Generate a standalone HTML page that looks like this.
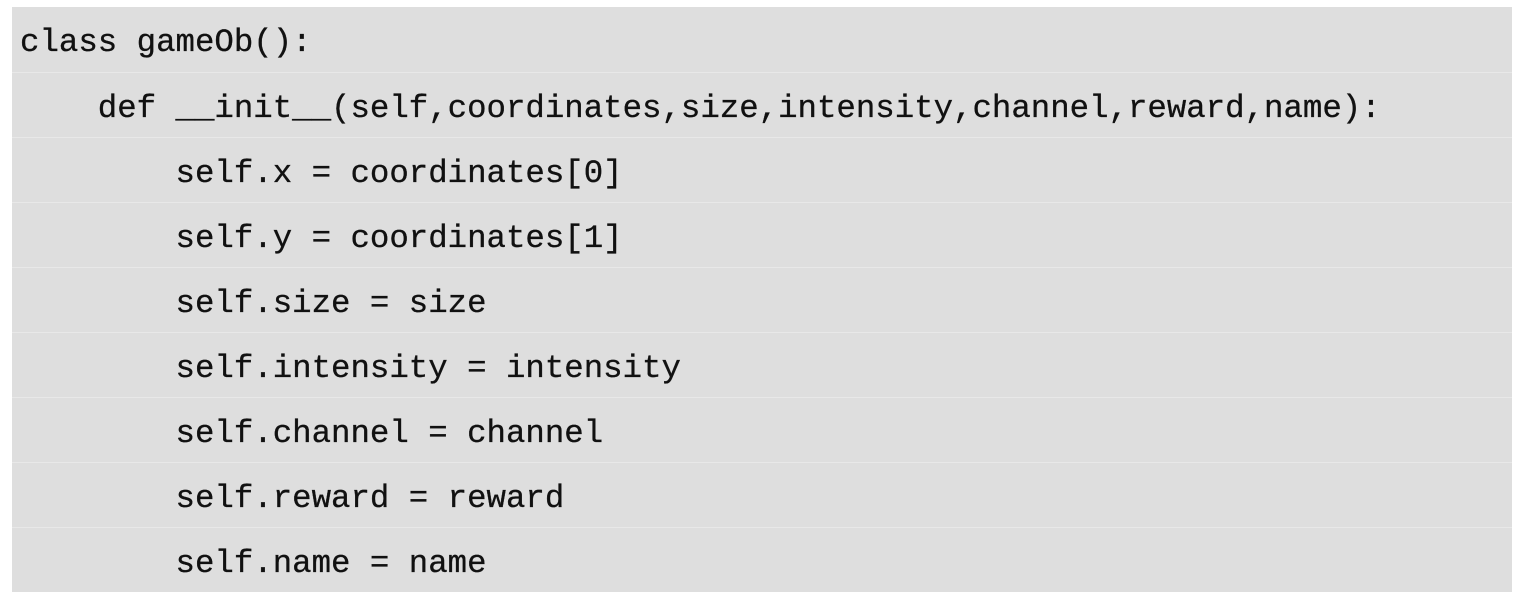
<!DOCTYPE html>
<html><head><style>
html,body{margin:0;padding:0;background:#fff;width:1517px;height:605px;overflow:hidden}
.box{position:absolute;left:12px;top:7px;width:1500px;height:585px;background:#dedede}
.row{height:64px;line-height:72px;overflow:hidden;border-bottom:1px solid #e8e8e8;padding-left:8px;font-family:"Liberation Mono",monospace;font-size:32.4px;color:#111;white-space:pre;-webkit-text-stroke:0.3px #111}
.row:last-child{border-bottom:none}
</style></head><body>
<div class="box">
<div class="row" style="height:65px">class gameOb():</div>
<div class="row">    def __init__(self,coordinates,size,intensity,channel,reward,name):</div>
<div class="row">        self.x = coordinates[0]</div>
<div class="row">        self.y = coordinates[1]</div>
<div class="row">        self.size = size</div>
<div class="row">        self.intensity = intensity</div>
<div class="row">        self.channel = channel</div>
<div class="row">        self.reward = reward</div>
<div class="row">        self.name = name</div>
</div>
</body></html>
